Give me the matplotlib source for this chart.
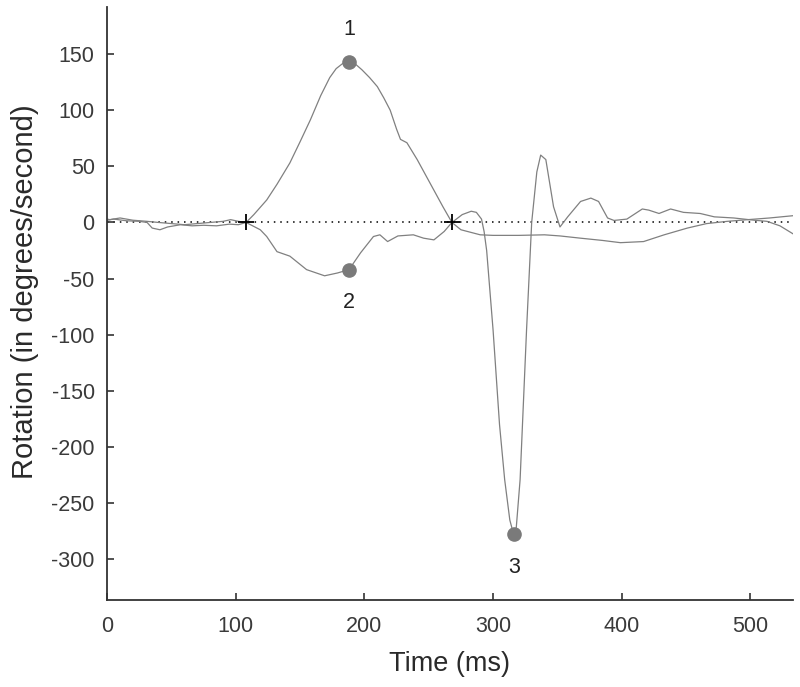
import matplotlib.pyplot as plt

plt.rcParams['font.family'] = ['Liberation Sans', 'DejaVu Sans']
plt.rcParams['axes.unicode_minus'] = False

# curve that peaks positive (point 1), then stays slightly negative
time_a = [0, 2, 10, 20, 31, 40, 50, 60, 70, 80,
          90, 96, 102, 108, 114, 124, 132, 142, 150, 158,
          166, 173, 178, 183, 188, 193, 198, 204, 210, 215,
          220, 225, 228, 233, 241, 251, 261, 268, 275, 290,
          300, 320, 340, 352, 368, 385, 399, 417, 433, 451,
          466, 482, 498, 515, 533]
rot_a = [3, 2.5, 4, 2, 1, 0, -1, -2, -1, 0,
         1, 2.5, 1, 0, 7, 20, 34, 53, 72, 91.5,
         113, 129, 137, 141.5, 143, 141, 136, 129, 121, 111,
         100, 83, 74, 71, 56, 35, 14, 0, -6.5, -11,
         -11.5, -11.5, -11, -12, -14, -16, -18, -17, -11, -5,
         -1, 1, 2.5, 4, 6]

# curve with negative dip (point 2), then the large swing (point 3)
time_b = [0, 5, 15, 25, 31, 35, 41, 47, 57, 66,
          75, 85, 95, 102, 108, 119, 124, 132, 142, 155,
          169, 179, 188, 197, 207, 212, 218, 226, 238, 246,
          254, 262, 268, 276, 283, 287, 291, 293, 295, 300,
          305, 309, 313, 316, 318, 321, 326, 330, 334, 337,
          341, 347, 352, 358, 368, 376, 382, 389, 394, 404,
          416, 421, 429, 438, 448, 461, 472, 487, 503, 513,
          523, 533]
rot_b = [2, 3, 1.5, 1, 0, -5, -6.5, -4, -2, -3,
         -2.5, -3, -1.5, -2, 0, -6.5, -12.5, -26, -30, -42,
         -47.5, -45, -42, -27, -12.5, -11, -17, -12, -11, -14,
         -15.5, -8, 0, 7, 10, 9, 3, -8, -25, -96,
         -180, -229, -265, -278, -272, -229, -96, 0, 45, 60,
         56, 14, -4, 5, 18.7, 21.7, 18.7, 4, 1.8, 3,
         12, 11, 8, 12, 9, 8, 5, 4, 2, 1,
         -3, -10]

peak_t = [188, 188, 316]
peak_v = [142.5, -42, -277]
peak_labels = ['1', '2', '3']
label_v = [172, -71, -307]

cross_t = [108, 268]
cross_v = [0, 0]

fig = plt.figure(figsize=(8, 6.87), dpi=100)
ax = fig.add_axes([0.134, 0.127, 0.857, 0.863])

ax.plot([0, 531], [0, 0], color='black', lw=1.1, linestyle=(0, (1, 3.2)), zorder=1)
ax.plot(time_a, rot_a, color='#808080', lw=0.9, zorder=2)
ax.plot(time_b, rot_b, color='#808080', lw=0.9, zorder=2)
ax.plot(peak_t, peak_v, 'o', color='#7a7a7a', markersize=9.5, zorder=3)
ax.plot(cross_t, cross_v, '+', color='black', markersize=11, mew=1.3, zorder=4)

for t, v, s in zip(peak_t, label_v, peak_labels):
    ax.text(t, v, s, ha='center', va='center', fontsize=15.5, color='#222222')

ax.set_xlim(0, 533)
ax.set_ylim(-336, 192)
ax.set_xticks([0, 100, 200, 300, 400, 500])
ax.set_yticks([-300, -250, -200, -150, -100, -50, 0, 50, 100, 150])

for side in ['top', 'right']:
    ax.spines[side].set_visible(False)
for side in ['left', 'bottom']:
    ax.spines[side].set_color('#333333')
    ax.spines[side].set_linewidth(1.3)

ax.tick_params(direction='in', length=5, width=1.2, color='#333333',
               labelsize=15.5, labelcolor='#3a3a3a')
ax.tick_params(axis='x', pad=12)
ax.tick_params(axis='y', pad=9)

ax.set_xlabel('Time (ms)', fontsize=19.5, color='#2a2a2a', labelpad=10)
ax.set_ylabel('Rotation (in degrees/second)', fontsize=21, color='#2a2a2a', labelpad=10)
ax.yaxis.set_label_coords(-0.100, 0.52)

fig.savefig('out.png', dpi=100)
